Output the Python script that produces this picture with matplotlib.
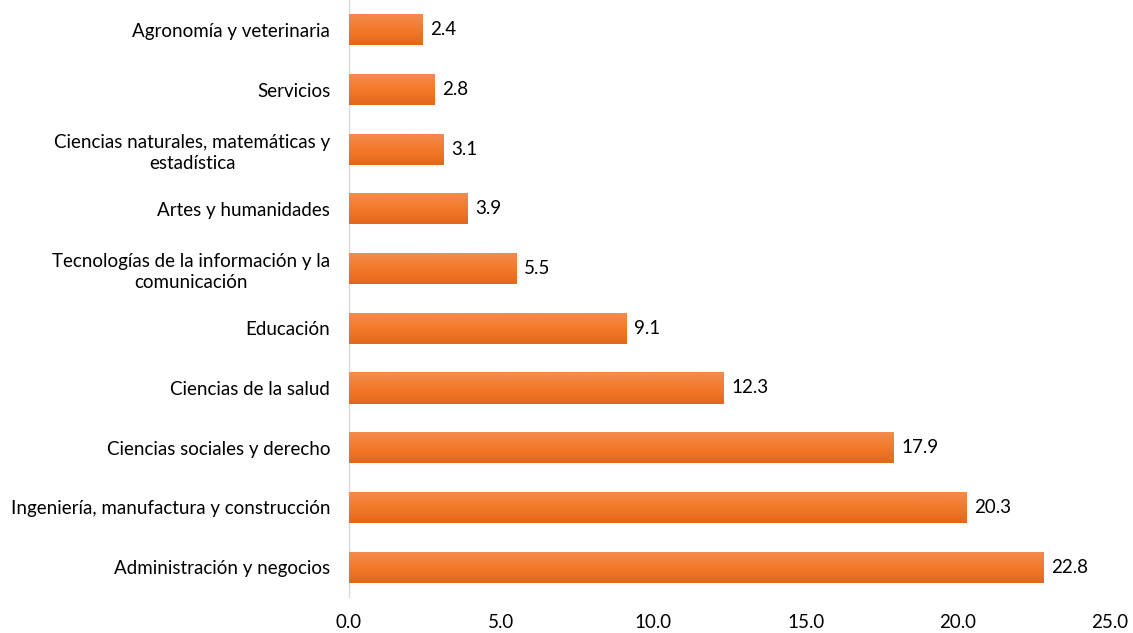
import matplotlib
matplotlib.use("Agg")
import matplotlib.pyplot as plt
import numpy as np
from matplotlib.colors import LinearSegmentedColormap

categories = [
    "Administración y negocios",
    "Ingeniería, manufactura y construcción",
    "Ciencias sociales y derecho",
    "Ciencias de la salud",
    "Educación",
    "Tecnologías de la información y la\ncomunicación",
    "Artes y humanidades",
    "Ciencias naturales, matemáticas y\nestadística",
    "Servicios",
    "Agronomía y veterinaria",
]
values = [22.8, 20.3, 17.9, 12.3, 9.1, 5.5, 3.9, 3.1, 2.8, 2.4]
xticks = [0.0, 5.0, 10.0, 15.0, 20.0, 25.0]

plt.rcParams['font.family'] = ['Lato', 'DejaVu Sans']

fig = plt.figure(figsize=(11.33, 6.33), dpi=100)
ax = fig.add_axes([0.308, 0.057, 0.6717, 0.943])

y = np.arange(len(categories))
bars = ax.barh(y, values, height=0.52, color="#F37A2B", edgecolor="none", zorder=2)

cmap = LinearSegmentedColormap.from_list("g", ["#E3671B", "#F37A2B", "#F38C50"])
grad = np.linspace(0, 1, 64).reshape(-1, 1)
for b in bars:
    x0, y0 = b.get_x(), b.get_y()
    w, h = b.get_width(), b.get_height()
    im = ax.imshow(grad, cmap=cmap, aspect="auto", origin="lower",
                   extent=[x0, x0 + w, y0, y0 + h], zorder=3)
    im.set_clip_path(b)

for yi, v in zip(y, values):
    ax.text(v + 0.25, yi, f"{v:.1f}", va="center", ha="left",
            fontsize=13.5, color="#000000")

ax.set_xlim(0, 25)
ax.set_ylim(-0.5, len(categories) - 0.5)
ax.set_yticks(y)
ax.set_yticklabels(categories, fontsize=13.5, color="#000000",
                   multialignment="center", linespacing=1.3)
ax.set_xticks(xticks)
ax.set_xticklabels([f"{t:.1f}" for t in xticks], fontsize=13.5, color="#000000")
ax.tick_params(axis="both", length=0)
ax.tick_params(axis="y", pad=13.5)
ax.tick_params(axis="x", pad=12)
for s in ["top", "right", "bottom"]:
    ax.spines[s].set_visible(False)
ax.spines["left"].set_color("#D9D9D9")
ax.spines["left"].set_linewidth(1)

fig.savefig("out.png", dpi=100)
